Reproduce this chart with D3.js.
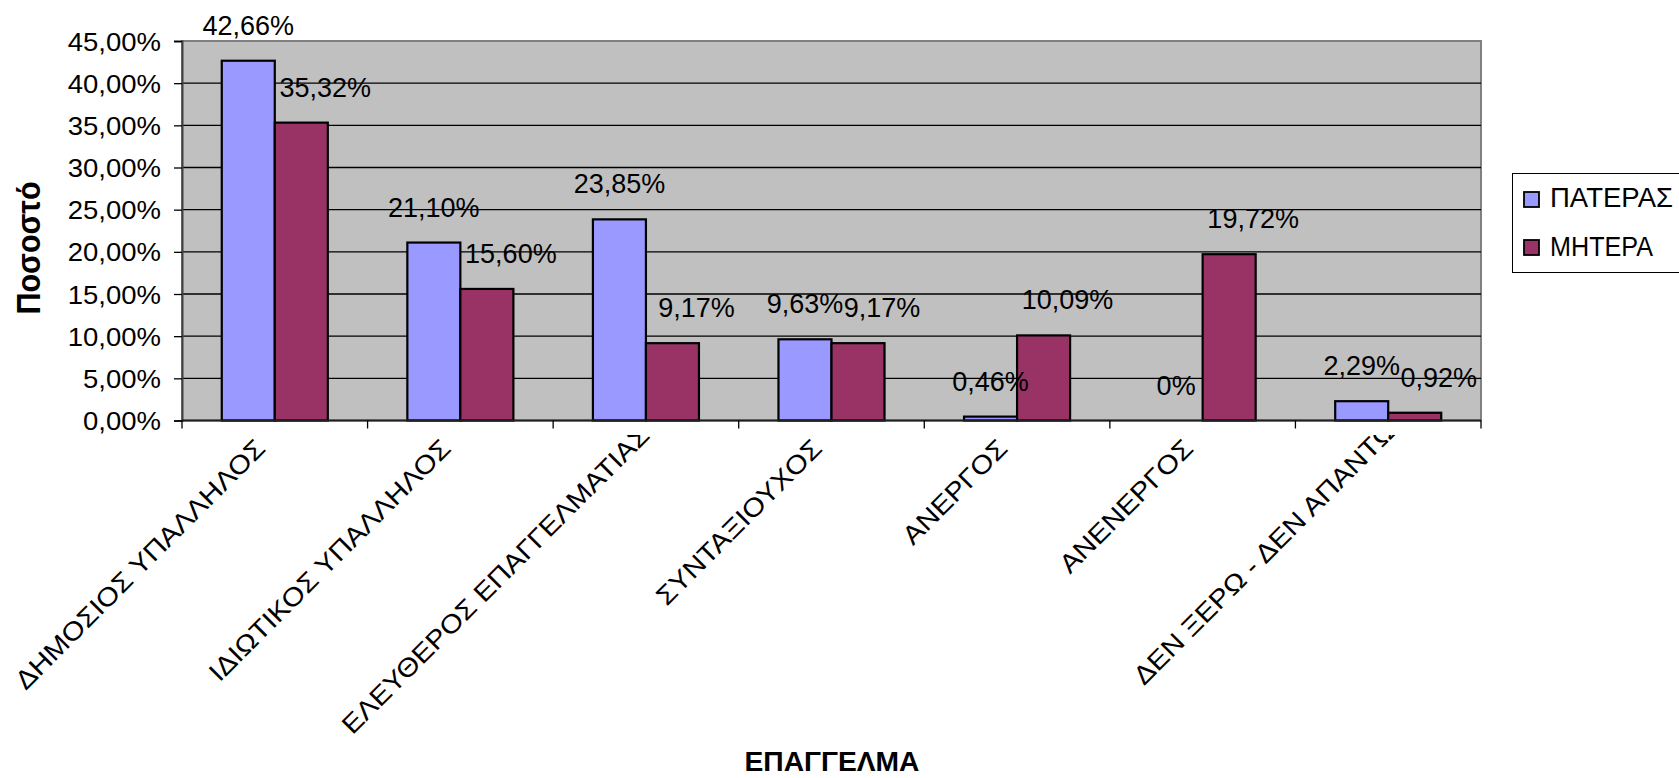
<!DOCTYPE html>
<html>
<head>
<meta charset="utf-8">
<script src="https://cdn.jsdelivr.net/npm/d3@7"></script>
<style>
  html, body { margin: 0; padding: 0; background: #ffffff; }
  svg { display: block; }
  text { font-family: "Liberation Sans", Arial, sans-serif; fill: #000; }
</style>
</head>
<body>
<svg id="chart" width="1679" height="778"></svg>
<script>
// ---- data ----
const categories = [
  "ΔΗΜΟΣΙΟΣ ΥΠΑΛΛΗΛΟΣ",
  "ΙΔΙΩΤΙΚΟΣ ΥΠΑΛΛΗΛΟΣ",
  "ΕΛΕΥΘΕΡΟΣ ΕΠΑΓΓΕΛΜΑΤΙΑΣ",
  "ΣΥΝΤΑΞΙΟΥΧΟΣ",
  "ΑΝΕΡΓΟΣ",
  "ΑΝΕΝΕΡΓΟΣ",
  "ΔΕΝ ΞΕΡΩ - ΔΕΝ ΑΠΑΝΤΩ"
];
const seriesNames = ["ΠΑΤΕΡΑΣ", "ΜΗΤΕΡΑ"];
const fatherValues = [42.66, 21.10, 23.85, 9.63, 0.46, 0, 2.29];
const motherValues = [35.32, 15.60, 9.17, 9.17, 10.09, 19.72, 0.92];
const fatherLabels = ["42,66%", "21,10%", "23,85%", "9,63%", "0,46%", "0%", "2,29%"];
const motherLabels = ["35,32%", "15,60%", "9,17%", "9,17%", "10,09%", "19,72%", "0,92%"];
const yTicks = [0, 5, 10, 15, 20, 25, 30, 35, 40, 45];
const yTickLabels = ["0,00%", "5,00%", "10,00%", "15,00%", "20,00%", "25,00%", "30,00%", "35,00%", "40,00%", "45,00%"];
const yTitle = "Ποσοστό";
const xTitle = "ΕΠΑΓΓΕΛΜΑ";

// ---- layout / style ----
const colors = ["#9999FF", "#993366"];
const plot = { left: 182, right: 1481, top: 41, bottom: 420.5 };
// long category labels overflow their area and are pushed up (then clipped), as in the original
const labelOverflowShift = [0, 0, 13, 0, 0, 0, 17];
const svg = d3.select("#chart");

function stretch(sel, f) {
  sel.each(function () {
    const L = this.getComputedTextLength();
    this.setAttribute("textLength", L * f);
    this.setAttribute("lengthAdjust", "spacingAndGlyphs");
  });
}

const y = d3.scaleLinear().domain([0, 45]).range([plot.bottom, plot.top]);
const pIn = 1.5 / 3.5;
const x = d3.scaleBand().domain(categories).range([plot.left, plot.right])
  .paddingInner(pIn).paddingOuter(pIn / 2);
const xs = d3.scaleBand().domain(seriesNames).range([0, x.bandwidth()]);
const step = x.step();

// plot background
svg.append("rect")
  .attr("x", plot.left).attr("y", plot.top)
  .attr("width", plot.right - plot.left).attr("height", plot.bottom - plot.top)
  .attr("fill", "#C0C0C0").attr("stroke", "#808080").attr("stroke-width", 2);

// gridlines
svg.append("g").selectAll("line").data(yTicks.filter(d => d > 0 && d < 45)).join("line")
  .attr("x1", plot.left).attr("x2", plot.right)
  .attr("y1", d => y(d)).attr("y2", d => y(d))
  .attr("stroke", "#000").attr("stroke-width", 1.3);

// y axis
const yAxis = d3.axisLeft(y).tickValues(yTicks).tickSize(8)
  .tickFormat((d, i) => yTickLabels[i]);
const gy = svg.append("g").attr("transform", `translate(${plot.left},0)`).call(yAxis);
gy.select(".domain").attr("stroke", "#404040").attr("stroke-width", 2);
gy.selectAll(".tick line").attr("stroke", "#000").attr("stroke-width", 1.3);
gy.selectAll(".tick text")
  .attr("x", -21).attr("dy", "0.36em")
  .style("font-size", "25px").style("font-family", "'Liberation Sans', Arial, sans-serif")
  .attr("fill", "#000");
stretch(gy.selectAll(".tick text"), 1.1);

// bars
const series = [fatherValues, motherValues];
series.forEach((vals, si) => {
  svg.append("g").selectAll("rect").data(vals).join("rect")
    .attr("x", (d, i) => x(categories[i]) + xs(seriesNames[si]))
    .attr("y", d => y(d))
    .attr("width", xs.bandwidth())
    .attr("height", d => y(0) - y(d))
    .attr("fill", colors[si])
    .attr("stroke", "#000").attr("stroke-width", 2.2);
});

// x axis line and ticks at category boundaries
svg.append("line")
  .attr("x1", plot.left).attr("x2", plot.right)
  .attr("y1", y(0)).attr("y2", y(0))
  .attr("stroke", "#202020").attr("stroke-width", 2);
svg.append("g").selectAll("line").data(d3.range(categories.length + 1)).join("line")
  .attr("x1", i => plot.left + i * step).attr("x2", i => plot.left + i * step)
  .attr("y1", y(0)).attr("y2", y(0) + 8)
  .attr("stroke", "#000").attr("stroke-width", 1.3);

// x category labels (rotated, clipped at top like the original)
svg.append("clipPath").attr("id", "xlabClip")
  .append("rect").attr("x", 0).attr("y", 435).attr("width", 1679).attr("height", 343);
const xl = svg.append("g").attr("clip-path", "url(#xlabClip)")
  .selectAll("text").data(categories).join("text")
  .attr("transform", (d, i) => {
    const s = labelOverflowShift[i];
    return `translate(${x(d) + x.bandwidth() / 2 - 8 + s},${450 - s}) rotate(-45)`;
  })
  .attr("text-anchor", "end")
  .style("font-size", "26px")
  .text(d => d);
stretch(xl, 1.12);

// data labels
const labelSets = [fatherLabels, motherLabels];
const labelDx = [0, 24];
series.forEach((vals, si) => {
  svg.append("g").selectAll("text").data(vals).join("text")
    .attr("x", (d, i) => x(categories[i]) + xs(seriesNames[si]) + xs.bandwidth() / 2 + labelDx[si])
    .attr("y", d => y(d) - 26)
    .attr("text-anchor", "middle")
    .style("font-size", "27px")
    .text((d, i) => labelSets[si][i]);
});

// axis titles
const yt = svg.append("text")
  .attr("transform", "translate(40,248) rotate(-90)")
  .attr("text-anchor", "middle")
  .style("font-size", "34px").style("font-weight", "bold")
  .text(yTitle);
yt.attr("textLength", 133).attr("lengthAdjust", "spacingAndGlyphs");

const xt = svg.append("text")
  .attr("x", 832).attr("y", 771)
  .attr("text-anchor", "middle")
  .style("font-size", "27px").style("font-weight", "bold")
  .text(xTitle);
xt.attr("textLength", 175).attr("lengthAdjust", "spacingAndGlyphs");

// legend
const lg = svg.append("g");
lg.append("rect").attr("x", 1512.5).attr("y", 173.5).attr("width", 220).attr("height", 99)
  .attr("fill", "#fff").attr("stroke", "#000").attr("stroke-width", 1);
seriesNames.forEach((name, i) => {
  lg.append("rect").attr("x", 1524).attr("y", 192 + i * 48).attr("width", 15).attr("height", 15)
    .attr("fill", colors[i]).attr("stroke", "#000").attr("stroke-width", 1.8);
  lg.append("text").attr("x", 1550).attr("y", 207 + i * 49)
    .style("font-size", "27px").text(name)
    .attr("textLength", i === 0 ? 123 : 103).attr("lengthAdjust", "spacingAndGlyphs");
});
</script>
</body>
</html>
